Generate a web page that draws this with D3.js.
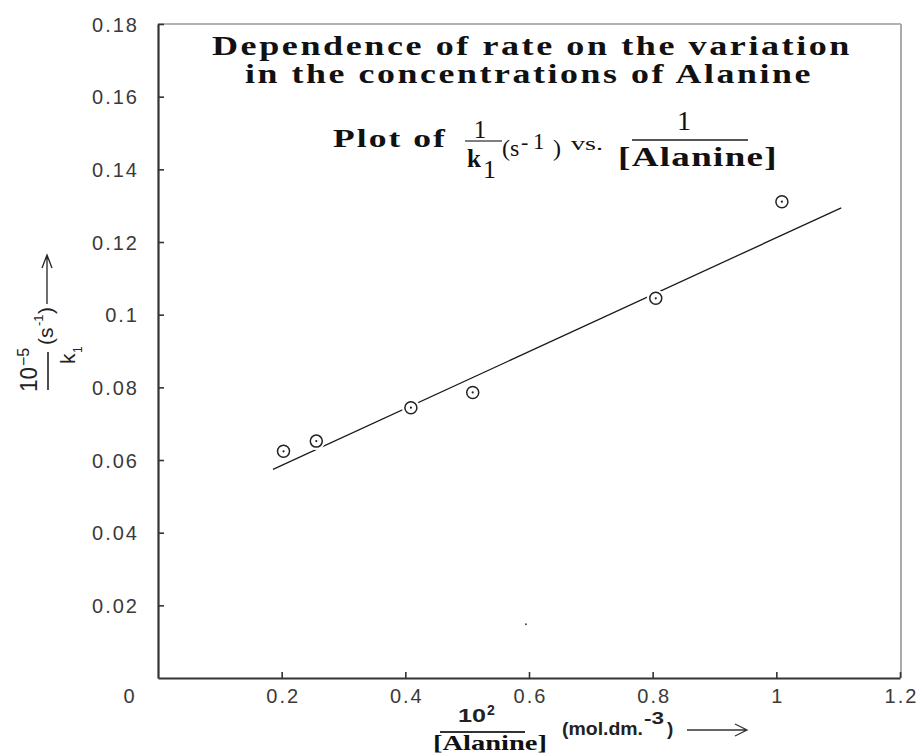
<!DOCTYPE html>
<html>
<head>
<meta charset="utf-8">
<script src="https://cdn.jsdelivr.net/npm/d3@7"></script>
<style>
  html, body { margin: 0; padding: 0; background: #fff; }
  svg { display: block; }
</style>
</head>
<body>
<svg id="chart"></svg>
<script>
// values
var concX = [0.203, 0.256, 0.409, 0.509, 0.805, 1.009];
var invK  = [0.0624, 0.0652, 0.0744, 0.0786, 0.1045, 0.1311];
var fitX  = [0.186, 1.105];
var fitY  = [0.0574, 0.1294];
var strayX = [0.595];
var strayY = [0.0148];
var xTicks = [0.2, 0.4, 0.6, 0.8, 1, 1.2];
var yTicks = [0.02, 0.04, 0.06, 0.08, 0.1, 0.12, 0.14, 0.16, 0.18];

var $svg = {width: 924, height: 755};
var $box = {left: 158, right: 901, top: 24, bottom: 678};
var $ink = '#111';
var $axis = '#333';

function init () {
    $svg.main = (
        d3.select('svg#chart')
        .attr('width', $svg.width)
        .attr('height', $svg.height)
    );
    $svg.x = d3.scaleLinear().domain([0, 1.2]).range([$box.left, $box.right - 1]);
    $svg.y = d3.scaleLinear().domain([0, 0.18]).range([$box.bottom, $box.top]);

    drawFrame();
    drawAxes();
    drawData();
    drawTitle();
    drawAxisLabels();
}

function drawFrame () {
    var g = $svg.main.append('g');
    // light top and right border
    g.append('line')
        .attr('x1', $box.left).attr('x2', $box.right)
        .attr('y1', $box.top).attr('y2', $box.top)
        .attr('stroke', '#999').attr('stroke-width', 1.5);
    g.append('line')
        .attr('x1', $box.right).attr('x2', $box.right)
        .attr('y1', $box.top).attr('y2', $box.bottom)
        .attr('stroke', '#aaa').attr('stroke-width', 2);
}

function styleAxis (g) {
    g.select('.domain').attr('stroke', $axis).attr('stroke-width', 2.2);
    g.selectAll('.tick line').attr('stroke', $axis).attr('stroke-width', 1.6);
    g.selectAll('.tick text')
        .attr('fill', '#3a3a3a')
        .style('font-family', '"Liberation Sans", Arial, sans-serif')
        .style('font-size', '20px')
        .style('letter-spacing', '2px');
}

function drawAxes () {
    var yAxis = (
        d3.axisLeft($svg.y)
        .tickValues(yTicks)
        .tickFormat(d => String(d))
        .tickSizeInner(-6)
        .tickSizeOuter(0)
        .tickPadding(19)
    );
    var gy = $svg.main.append('g')
        .attr('transform', `translate(${$box.left},0)`)
        .call(yAxis);
    styleAxis(gy);
    gy.selectAll('.tick text').attr('dy', '0.36em');

    var xAxis = (
        d3.axisBottom($svg.x)
        .tickValues(xTicks)
        .tickFormat(d => String(d))
        .tickSizeInner(-6)
        .tickSizeOuter(0)
        .tickPadding(11)
    );
    var gx = $svg.main.append('g')
        .attr('transform', `translate(0,${$box.bottom})`)
        .call(xAxis);
    styleAxis(gx);
    gx.selectAll('.tick text').attr('dx', '1px');

    // shared origin label
    $svg.main.append('text')
        .attr('x', $box.left - 29).attr('y', 703)
        .attr('text-anchor', 'middle')
        .attr('fill', '#3a3a3a')
        .style('font-family', '"Liberation Sans", Arial, sans-serif')
        .style('font-size', '20px')
        .text('0');
}

function drawData () {
    var x = $svg.x, y = $svg.y;
    var fit = fitX.map((v, i) => [v, fitY[i]]);
    var pts = concX.map((v, i) => [v, invK[i]]);

    $svg.main.append('path')
        .datum(fit)
        .attr('d', d3.line().x(d => x(d[0])).y(d => y(d[1])))
        .attr('fill', 'none')
        .attr('stroke', '#1a1a1a')
        .attr('stroke-width', 1.3);

    // white halo so the line breaks around the markers
    $svg.main.append('g').selectAll('circle')
        .data(pts).join('circle')
        .attr('cx', d => x(d[0])).attr('cy', d => y(d[1]))
        .attr('r', 9).attr('fill', '#fff');

    var m = $svg.main.append('g').selectAll('g')
        .data(pts).join('g')
        .attr('transform', d => `translate(${x(d[0])},${y(d[1])})`);
    m.append('circle')
        .attr('r', 6)
        .attr('fill', 'none')
        .attr('stroke', '#222')
        .attr('stroke-width', 1.5);
    m.append('circle')
        .attr('r', 1.1)
        .attr('fill', '#222');

    $svg.main.append('g').selectAll('circle')
        .data(strayX.map((v, i) => [v, strayY[i]])).join('circle')
        .attr('cx', d => x(d[0])).attr('cy', d => y(d[1]))
        .attr('r', 0.9).attr('fill', '#333');
}

function serif (sel, size, weight) {
    return sel
        .attr('fill', $ink)
        .style('font-family', '"Liberation Serif", "DejaVu Serif", serif')
        .style('font-size', size + 'px')
        .style('font-weight', weight || 'normal');
}

function sans (sel, size, weight) {
    return sel
        .attr('fill', '#222')
        .style('font-family', '"Liberation Sans", Arial, sans-serif')
        .style('font-size', size + 'px')
        .style('font-weight', weight || 'normal');
}

function drawTitle () {
    var g = $svg.main.append('g');
    serif(g.append('text'), 28, 'bold')
        .attr('x', 212).attr('y', 55)
        .style('letter-spacing', '2px')
        .attr('textLength', 640).attr('lengthAdjust', 'spacingAndGlyphs')
        .text('Dependence of rate on the variation');
    serif(g.append('text'), 28, 'bold')
        .attr('x', 245).attr('y', 83)
        .style('letter-spacing', '2px')
        .attr('textLength', 568).attr('lengthAdjust', 'spacingAndGlyphs')
        .text('in the concentrations of Alanine');

    serif(g.append('text'), 26, 'bold')
        .attr('x', 333).attr('y', 147)
        .style('letter-spacing', '1.5px')
        .attr('textLength', 114).attr('lengthAdjust', 'spacingAndGlyphs')
        .text('Plot of');

    // 1 / k1
    serif(g.append('text'), 25)
        .attr('x', 480).attr('y', 138).attr('text-anchor', 'middle')
        .text('1');
    g.append('line')
        .attr('x1', 465).attr('x2', 502).attr('y1', 141).attr('y2', 141)
        .attr('stroke', '#555').attr('stroke-width', 1.6);
    serif(g.append('text'), 25, 'bold')
        .attr('x', 467).attr('y', 167).text('k');
    serif(g.append('text'), 26)
        .attr('x', 483).attr('y', 178).text('1');

    // (s-1)
    serif(g.append('text'), 24).attr('x', 502).attr('y', 156).text('(s');
    serif(g.append('text'), 22).attr('x', 521).attr('y', 149).text('-');
    serif(g.append('text'), 23).attr('x', 533).attr('y', 149).text('1');
    serif(g.append('text'), 24).attr('x', 553).attr('y', 156).text(')');
    serif(g.append('text'), 18).attr('x', 571).attr('y', 150)
        .attr('textLength', 32).attr('lengthAdjust', 'spacingAndGlyphs').text('vs.');

    // 1 / [Alanine]
    serif(g.append('text'), 28)
        .attr('x', 684).attr('y', 130).attr('text-anchor', 'middle')
        .text('1');
    g.append('line')
        .attr('x1', 632).attr('x2', 748).attr('y1', 140).attr('y2', 140)
        .attr('stroke', '#555').attr('stroke-width', 2);
    serif(g.append('text'), 28, 'bold')
        .attr('x', 618).attr('y', 166)
        .style('letter-spacing', '1px')
        .attr('textLength', 160).attr('lengthAdjust', 'spacingAndGlyphs')
        .text('[Alanine]');
}

function drawAxisLabels () {
    // x label: 10^2 / [Alanine] (mol.dm.^-3) -->
    var gx = $svg.main.append('g');
    sans(gx.append('text'), 18, 'bold')
        .attr('x', 458).attr('y', 722)
        .attr('textLength', 28).attr('lengthAdjust', 'spacingAndGlyphs')
        .text('10');
    sans(gx.append('text'), 14, 'bold')
        .attr('x', 487).attr('y', 715).text('2');
    gx.append('line')
        .attr('x1', 440).attr('x2', 525).attr('y1', 732).attr('y2', 732)
        .attr('stroke', '#333').attr('stroke-width', 2);
    serif(gx.append('text'), 21, 'bold')
        .attr('x', 433).attr('y', 750)
        .attr('textLength', 114).attr('lengthAdjust', 'spacingAndGlyphs')
        .text('[Alanine]');
    sans(gx.append('text'), 19, 'bold')
        .attr('x', 562).attr('y', 735)
        .attr('textLength', 81).attr('lengthAdjust', 'spacingAndGlyphs')
        .text('(mol.dm.');
    sans(gx.append('text'), 16, 'bold')
        .attr('x', 644).attr('y', 724)
        .attr('textLength', 20).attr('lengthAdjust', 'spacingAndGlyphs')
        .text('-3');
    sans(gx.append('text'), 19, 'bold')
        .attr('x', 667).attr('y', 735).text(')');
    gx.append('path')
        .attr('d', 'M687,730 H746 M735,724 L747,730 L735,736')
        .attr('fill', 'none').attr('stroke', '#333').attr('stroke-width', 1.3);

    // y label, rotated: 10^-5 / k1 (s^-1) -->
    var gy = $svg.main.append('g')
        .attr('transform', 'translate(48,392) rotate(-90)');
    sans(gy.append('text'), 23).attr('x', 0).attr('y', -11)
        .attr('textLength', 25).attr('lengthAdjust', 'spacingAndGlyphs').text('10');
    sans(gy.append('text'), 16).attr('x', 26).attr('y', -19).text('\u22125');
    gy.append('line')
        .attr('x1', 2).attr('x2', 40).attr('y1', 0).attr('y2', 0)
        .attr('stroke', '#222').attr('stroke-width', 1.6);
    sans(gy.append('text'), 21).attr('x', 28).attr('y', 27).text('k');
    sans(gy.append('text'), 12).attr('x', 39).attr('y', 34).text('1');
    sans(gy.append('text'), 21).attr('x', 47).attr('y', 5).text('(s');
    sans(gy.append('text'), 13).attr('x', 66).attr('y', -5).text('-1');
    sans(gy.append('text'), 21).attr('x', 78).attr('y', 5).text(')');
    gy.append('path')
        .attr('d', 'M88,-1 H136 M124,-6 L137,-1 L124,4')
        .attr('fill', 'none').attr('stroke', '#222').attr('stroke-width', 1.3);
}

init();
</script>
</body>
</html>
